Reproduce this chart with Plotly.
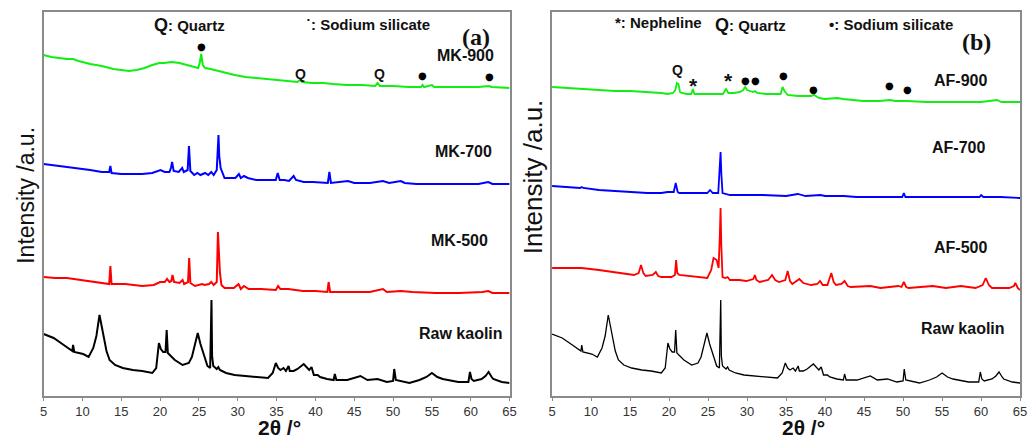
import plotly.graph_objects as go

# ---- XRD patterns (2θ in degrees, stacked intensity in a.u.) ----
TWO_THETA_TICKS = [5, 10, 15, 20, 25, 30, 35, 40, 45, 50, 55, 60, 65]

RAW_KAOLIN = [
    (5.0, 62), (6.3, 58), (7.6, 51), (8.4, 46), (8.7, 45), (8.8, 51), (8.95, 44), (10.1, 42),
    (10.8, 39), (11.4, 48), (11.8, 60), (12.2, 81), (12.5, 70), (12.8, 58), (13.1, 45), (13.5, 36),
    (14.2, 31), (15.2, 28), (16.5, 26), (17.7, 25), (19.0, 23), (19.5, 28), (19.85, 53), (20.1, 47),
    (20.4, 44), (20.7, 44), (20.85, 66), (21.0, 43), (21.5, 39), (21.9, 36), (22.9, 31), (23.7, 33),
    (24.1, 39), (24.4, 49), (24.85, 63), (25.2, 52), (25.5, 44), (25.8, 36), (26.1, 30), (26.45, 28),
    (26.55, 80), (26.62, 96), (26.7, 40), (26.85, 30), (27.3, 27), (27.5, 29), (27.7, 26),
    (28.5, 23), (29.6, 21), (31.0, 20), (32.2, 19), (33.9, 18), (34.5, 23), (34.9, 33), (35.2, 28),
    (35.5, 26), (35.9, 28), (36.2, 25), (36.55, 30), (36.7, 25), (37.2, 25), (37.7, 27), (38.5, 32),
    (38.9, 28), (39.2, 26), (39.5, 29), (39.8, 21), (40.3, 21), (40.6, 19), (41.5, 17), (42.35, 16),
    (42.5, 22), (42.7, 16), (44.1, 16), (45.4, 19), (45.8, 20), (46.7, 16), (48.0, 17), (49.2, 14),
    (50.0, 15), (50.15, 27), (50.35, 16), (52.1, 13), (53.4, 16), (54.3, 19), (55.0, 23), (55.7, 19),
    (56.4, 17), (58.4, 14), (59.7, 14), (59.9, 24), (60.1, 17), (60.4, 15), (61.4, 17), (61.9, 20),
    (62.3, 24), (62.7, 19), (62.9, 17), (64.0, 14), (65.0, 13),
]

MK500 = [
    (5.0, 119), (6.5, 118), (8.0, 118), (10.0, 116), (12.6, 113), (13.45, 112), (13.6, 130), (13.75, 112),
    (15.5, 112), (17.7, 110), (19.2, 111), (20.0, 114), (20.6, 114), (20.9, 117), (21.2, 114),
    (21.45, 115), (21.6, 121), (21.8, 114), (22.5, 113), (22.9, 116), (23.1, 112), (23.6, 114),
    (23.75, 138), (23.9, 113), (24.5, 110), (25.4, 112), (25.75, 111), (26.3, 112), (26.6, 114),
    (26.9, 111), (27.3, 114), (27.45, 164), (27.6, 140), (27.7, 124), (27.9, 111), (28.3, 108),
    (29.5, 108), (30.1, 112), (30.4, 107), (30.8, 110), (31.4, 107), (33.0, 107), (34.9, 106),
    (35.2, 110), (35.5, 107), (36.5, 107), (38.4, 105), (40.0, 105), (41.55, 104), (41.7, 114),
    (41.9, 104), (43.5, 104), (45.0, 104), (47.0, 104), (48.7, 107), (49.2, 104), (51.0, 105),
    (52.5, 104), (55.5, 103), (58.5, 103), (61.5, 104), (62.25, 105), (62.8, 103), (65.0, 103),
]

MK700 = [
    (5.0, 232), (6.0, 231), (7.0, 230), (8.4, 229), (9.5, 228), (11.0, 226), (12.5, 224), (13.45, 224),
    (13.6, 230), (13.75, 223), (15.0, 222), (16.5, 222), (17.7, 222), (19.0, 223), (19.6, 225),
    (20.05, 226), (20.6, 224), (21.2, 224), (21.4, 228), (21.55, 234), (21.75, 225), (22.4, 224),
    (22.85, 228), (23.05, 224), (23.55, 226), (23.72, 250), (23.9, 225), (24.4, 221), (24.8, 223),
    (25.2, 221), (25.8, 223), (26.2, 221), (26.6, 224), (26.9, 221), (27.3, 226), (27.42, 245),
    (27.52, 261), (27.62, 240), (27.8, 228), (28.3, 218), (29.0, 218), (29.7, 218), (30.15, 222),
    (30.4, 218), (30.8, 220), (31.3, 218), (32.4, 216), (33.5, 216), (34.3, 216), (34.9, 216),
    (35.15, 223), (35.4, 216), (36.0, 216), (36.6, 215), (37.2, 220), (37.5, 216), (38.5, 214),
    (39.7, 214), (41.6, 213), (41.8, 224), (42.0, 213), (43.0, 214), (44.2, 215), (45.0, 213),
    (47.0, 213), (48.7, 215), (49.5, 213), (51.0, 215), (51.5, 213), (53.0, 212), (55.0, 212),
    (58.0, 212), (61.0, 212), (62.25, 214), (62.8, 212), (65.0, 212),
]

MK900 = [
    (5.0, 341), (6.0, 339), (7.0, 338), (8.0, 337), (8.8, 337), (9.5, 335), (11.0, 332), (12.5, 330),
    (14.0, 327), (15.0, 326), (16.0, 325), (17.0, 326), (18.0, 328), (19.0, 331), (19.9, 333),
    (20.5, 333), (21.5, 334), (22.5, 333), (23.5, 331), (24.3, 329), (24.9, 328), (25.1, 333),
    (25.3, 342), (25.5, 331), (25.8, 328), (26.5, 327), (27.5, 325), (28.5, 323), (29.6, 321),
    (31.0, 319), (32.5, 318), (33.9, 317), (35.0, 316), (36.5, 315), (37.7, 314), (38.0, 316),
    (38.3, 314), (39.5, 313), (41.0, 313), (42.3, 312), (44.0, 311), (46.0, 311), (47.7, 310),
    (48.0, 313), (48.3, 310), (50.0, 310), (52.0, 309), (53.6, 309), (53.8, 311), (54.0, 309),
    (55.0, 311), (55.3, 309), (57.0, 309), (59.0, 309), (61.0, 309), (62.3, 310), (62.7, 309),
    (65.0, 308),
]

AF500 = [
    (5.0, 128), (7.0, 128), (8.8, 128), (11.0, 126), (13.0, 124), (14.5, 122), (15.5, 121), (16.1, 123),
    (16.4, 131), (16.7, 123), (17.0, 120), (17.9, 121), (18.3, 124), (18.6, 120), (19.0, 119),
    (20.3, 119), (20.75, 121), (20.9, 136), (21.05, 123), (21.3, 121), (22.5, 120), (23.6, 119),
    (24.9, 118), (25.4, 126), (25.7, 138), (26.1, 136), (26.35, 128), (26.5, 160), (26.6, 188),
    (26.7, 150), (26.85, 119), (27.2, 118), (27.5, 119), (27.8, 116), (29.0, 116), (29.9, 115),
    (30.8, 117), (31.0, 121), (31.2, 116), (31.6, 114), (32.7, 116), (33.2, 121), (33.6, 116),
    (34.1, 114), (34.9, 116), (35.2, 125), (35.5, 115), (35.8, 112), (36.7, 117), (37.2, 113),
    (38.2, 111), (39.0, 112), (39.35, 115), (39.7, 111), (40.3, 111), (40.8, 123), (41.1, 114),
    (41.4, 111), (42.1, 112), (42.5, 115), (42.9, 110), (43.3, 109), (45.8, 110), (47.1, 108),
    (49.4, 110), (49.8, 109), (50.1, 114), (50.4, 109), (50.7, 108), (53.8, 110), (55.5, 108),
    (57.4, 110), (59.3, 108), (60.2, 111), (60.6, 118), (61.0, 111), (61.4, 108), (63.6, 108),
    (64.2, 110), (64.4, 113), (64.7, 108), (65.0, 106),
]

AF700 = [
    (5.0, 210), (7.0, 209), (8.6, 208), (8.8, 209), (9.0, 208), (11.0, 206), (13.0, 205), (15.0, 204),
    (17.2, 203), (19.0, 203), (19.8, 204), (20.6, 204), (20.85, 213), (21.1, 204), (21.3, 203),
    (23.6, 203), (24.9, 203), (25.25, 206), (25.6, 203), (26.3, 203), (26.5, 225), (26.6, 244),
    (26.7, 222), (26.85, 203), (27.8, 201), (30.0, 201), (32.0, 201), (35.0, 200), (36.5, 202),
    (37.5, 200), (39.4, 201), (40.0, 200), (42.4, 200), (44.0, 199), (45.8, 199), (48.0, 199),
    (49.9, 199), (50.1, 203), (50.3, 199), (52.0, 199), (54.7, 199), (57.0, 199), (59.8, 199),
    (60.0, 201), (60.3, 199), (62.5, 199), (65.0, 198),
]

AF900 = [
    (5.0, 309), (7.0, 308), (9.0, 307), (11.0, 306), (13.0, 305), (15.0, 305), (17.2, 304), (19.0, 303),
    (19.8, 302), (20.5, 303), (20.8, 306), (21.0, 313), (21.2, 312), (21.4, 304), (21.6, 303),
    (22.3, 302), (22.85, 302), (23.05, 307), (23.25, 302), (24.5, 302), (25.6, 302), (26.9, 302),
    (27.3, 307), (27.6, 303), (28.3, 303), (29.1, 304), (29.5, 306), (29.75, 309), (30.0, 306),
    (30.4, 305), (30.8, 304), (31.0, 305), (31.3, 303), (32.5, 302), (33.5, 302), (34.3, 302),
    (34.55, 309), (34.8, 305), (35.2, 301), (36.5, 300), (37.6, 300), (38.2, 300), (38.6, 301),
    (39.2, 298), (39.9, 297), (41.6, 298), (42.3, 297), (44.9, 295), (47.0, 295), (48.3, 296),
    (49.0, 295), (50.5, 295), (53.0, 294), (55.6, 294), (58.0, 294), (60.0, 294), (62.05, 296),
    (62.6, 294), (65.0, 294),
]

MK_LABELS = ["Raw kaolin", "MK-500", "MK-700", "MK-900"]
AF_LABELS = ["Raw kaolin", "AF-500", "AF-700", "AF-900"]
LABEL_Y_LEFT = [63, 156, 245, 340]
LABEL_Y_RIGHT = [68, 149, 249, 315]
LABEL_X_LEFT = [64.4, 62.5, 63.0, 63.3]
LABEL_X_RIGHT = [63.3, 61.0, 60.7, 61.0]

# phase markers: (2θ, height, symbol)
MK_MARKS = [(25.3, 349, "●"), (38.1, 322, "Q"), (48.3, 322, "Q"), (53.8, 320, "●"), (62.4, 319, "●")]
AF_MARKS = [(21.1, 326, "Q"), (23.1, 310, "*"), (27.6, 315, "*"), (29.8, 315, "●"), (31.1, 315, "●"),
            (34.65, 320, "●"), (38.5, 306, "●"), (48.3, 310, "●"), (50.6, 306, "●")]

COLORS = ["#000000", "#ff0000", "#0000ff", "#11ee11"]


def xy(pairs):
    return [p[0] for p in pairs], [p[1] for p in pairs]


fig = go.Figure()

left_sets = [RAW_KAOLIN, MK500, MK700, MK900]
right_sets = [RAW_KAOLIN, AF500, AF700, AF900]

for i, data in enumerate(left_sets):
    x, y = xy(data)
    fig.add_trace(go.Scatter(x=x, y=y, mode="lines", xaxis="x", yaxis="y",
                             line=dict(color=COLORS[i], width=2.0), showlegend=False))
for i, data in enumerate(right_sets):
    x, y = xy(data)
    fig.add_trace(go.Scatter(x=x, y=y, mode="lines", xaxis="x2", yaxis="y2",
                             line=dict(color=COLORS[i], width=1.3 if i == 0 else 1.8),
                             showlegend=False))

frame = dict(showline=True, linecolor="#8a8a8a", linewidth=1.5, mirror=True,
             showgrid=False, zeroline=False)
xcommon = dict(range=[5, 65], tickvals=TWO_THETA_TICKS, ticks="outside", ticklen=3,
               tickcolor="#8a8a8a", tickfont=dict(family="Arial", size=13, color="#333333"),
               **frame)
ycommon = dict(range=[0, 384], showticklabels=False, ticks="", **frame)

fig.update_layout(
    width=1033, height=439,
    margin=dict(l=0, r=0, t=0, b=0),
    paper_bgcolor="white", plot_bgcolor="white",
    xaxis=dict(domain=[40 / 1033, 511 / 1033], anchor="y", **xcommon),
    yaxis=dict(domain=[43 / 439, 427 / 439], anchor="x", **ycommon),
    xaxis2=dict(domain=[554 / 1033, 1027 / 1033], anchor="y2", **xcommon),
    yaxis2=dict(domain=[43 / 439, 427 / 439], anchor="x2", **ycommon),
)

ann = []
bold = dict(family="Arial", size=16, color="#111111")

for lab, lx, ly in zip(MK_LABELS, LABEL_X_LEFT, LABEL_Y_LEFT):
    ann.append(dict(x=lx, y=ly, xref="x", yref="y", text=f"<b>{lab}</b>", showarrow=False,
                    xanchor="right", yanchor="middle", font=bold))
for lab, lx, ly in zip(AF_LABELS, LABEL_X_RIGHT, LABEL_Y_RIGHT):
    ann.append(dict(x=lx, y=ly, xref="x2", yref="y2", text=f"<b>{lab}</b>", showarrow=False,
                    xanchor="right", yanchor="middle", font=bold))


def mark(x, y, s, xr, yr):
    if s == "●":
        f = dict(family="DejaVu Sans", size=10, color="#000000")
    elif s == "*":
        f = dict(family="Arial", size=21, color="#111111")
    else:
        f = dict(family="Arial", size=14, color="#111111")
    txt = f"<b>{s}</b>" if s in ("Q", "*") else s
    return dict(x=x, y=y, xref=xr, yref=yr, text=txt, showarrow=False,
                xanchor="center", yanchor="middle", font=f)


for x, y, s in MK_MARKS:
    ann.append(mark(x, y, s, "x", "y"))
for x, y, s in AF_MARKS:
    ann.append(mark(x, y, s, "x2", "y2"))


def note(x, y, text, xr, yr, anchor="center", size=15, family="Arial", shift=0):
    return dict(x=x, y=y, xref=xr, yref=yr, showarrow=False, xanchor=anchor, yanchor="middle",
                xshift=shift, text=f"<b>{text}</b>",
                font=dict(family=family, size=size, color="#111111"))


ann += [
    # phase keys, panel (a)
    note(21.3, 371, "Q", "x", "y", "right", 18),
    note(21.3, 370, ": Quartz", "x", "y", "left", shift=-4),
    note(39.6, 376, "•", "x", "y", "right", 8),
    note(39.6, 371, ": Sodium silicate", "x", "y", "left", shift=-3),
    note(60.7, 359, "(a)", "x", "y", "center", 24, "Liberation Serif"),
    # phase keys, panel (b)
    note(18.6, 373, "*: Nepheline", "x2", "y2"),
    note(27.9, 371, "Q", "x2", "y2", "right", 18),
    note(27.9, 370, ": Quartz", "x2", "y2", "left", shift=-4),
    note(48.4, 371, "•: Sodium silicate", "x2", "y2"),
    note(59.4, 354, "(b)", "x2", "y2", "center", 24, "Liberation Serif"),
    # axis titles
    dict(x=22 / 1033, y=1 - 195 / 439, xref="paper", yref="paper", showarrow=False,
         text="Intensity /a.u.", textangle=-90, xanchor="center", yanchor="middle",
         font=dict(family="Arial", size=23, color="#111111")),
    dict(x=535 / 1033, y=1 - 177 / 439, xref="paper", yref="paper", showarrow=False,
         text="Intensity /a.u.", textangle=-90, xanchor="center", yanchor="middle",
         font=dict(family="Arial", size=26, color="#111111")),
    dict(x=278 / 1033, y=1 - 427 / 439, xref="paper", yref="paper", showarrow=False,
         text="<b>2θ /°</b>", xanchor="center", yanchor="middle", borderpad=0,
         font=dict(family="Arial", size=21, color="#111111")),
    dict(x=808 / 1033, y=1 - 427 / 439, xref="paper", yref="paper", showarrow=False,
         text="<b>2θ /°</b>", xanchor="center", yanchor="middle", borderpad=0,
         font=dict(family="Arial", size=21, color="#111111")),
]

fig.update_layout(annotations=ann)
fig.write_html("out.html")
